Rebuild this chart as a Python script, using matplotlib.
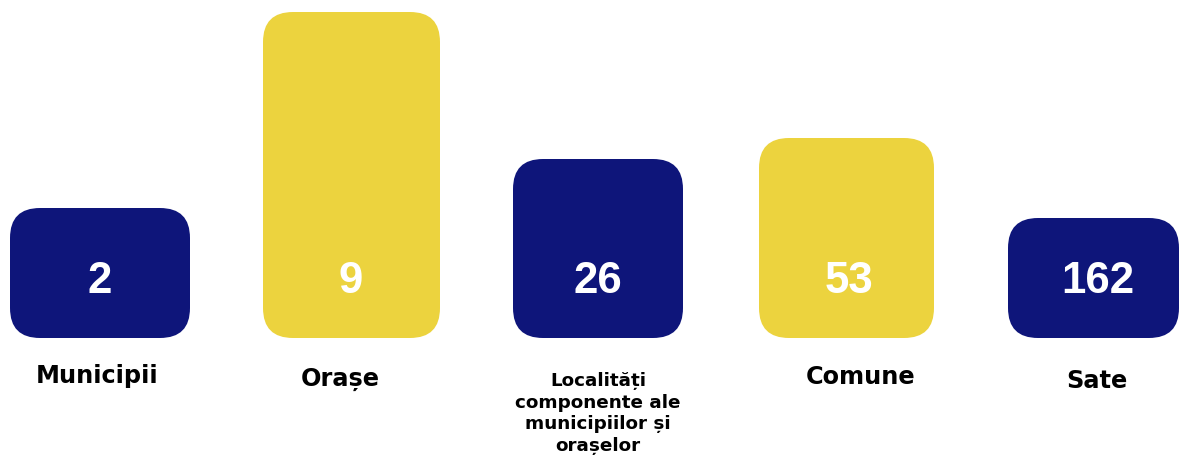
import matplotlib.pyplot as plt
from matplotlib.patches import FancyBboxPatch

# === Data ===
categories = ['Municipii', 'Orașe', 'Localități\ncomponente ale\nmunicipiilor și\norașelor', 'Comune', 'Sate']
values = [2, 9, 26, 53, 162]

# === Layout (pixel coords) ===
box_left = [10, 263, 513, 759, 1008]
box_right = [190, 440, 683, 934, 1179]
box_top = [209, 13, 160, 139, 219]
box_bottom = 339
colors = ['#0E157A', '#ECD33E', '#0E157A', '#ECD33E', '#0E157A']
num_x = [100, 351, 598, 849, 1098]
label_x = [97, 340, 598, 861, 1097]
label_base = [383, 386, 386, 384, 388]
label_size = [17.3, 17.3, 13.2, 17.3, 17.3]

fig = plt.figure(figsize=(11.81, 4.56), dpi=100)
ax = fig.add_axes([0, 0, 1, 1])
ax.set_xlim(0, 1181)
ax.set_ylim(456, 0)
ax.axis('off')

r = 30
for i, v in enumerate(values):
    w = box_right[i] - box_left[i]
    h = box_bottom - box_top[i]
    box = FancyBboxPatch((box_left[i] + r, box_top[i] + r), w - 2 * r, h - 2 * r,
                         boxstyle=f'round,pad={r}', fc=colors[i], ec='none')
    ax.add_patch(box)
    ax.text(num_x[i], 293, str(v), color='white', fontsize=31.5, fontweight='bold',
            family=['Liberation Sans', 'DejaVu Sans'], ha='center', va='baseline')
    lines = categories[i].split('\n')
    for j, line in enumerate(lines):
        ax.text(label_x[i], label_base[i] + j * 21.7, line, fontsize=label_size[i],
                fontweight='bold', family=['DejaVu Sans'], ha='center', va='baseline')

fig.savefig('out.png', dpi=100)
